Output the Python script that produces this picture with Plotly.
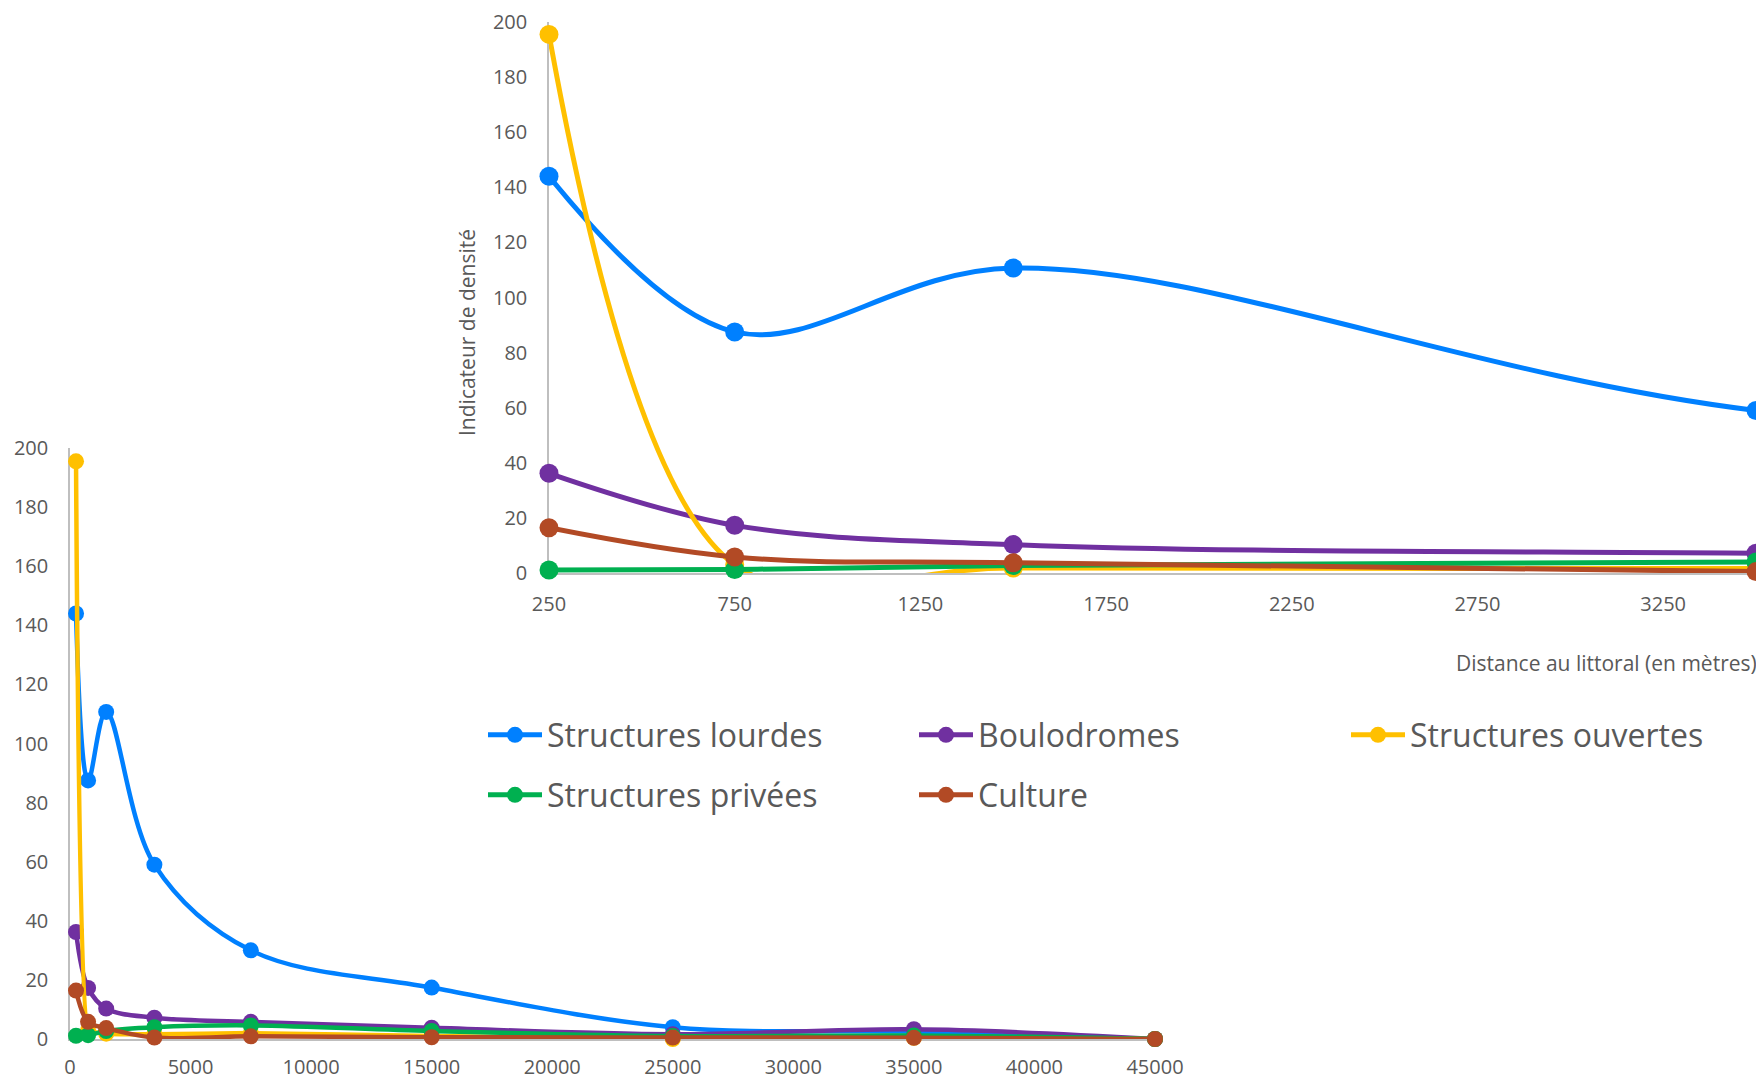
import plotly.graph_objects as go

# ---- data ----
distance = [250, 750, 1500, 3500, 7500, 15000, 25000, 35000, 45000]
series_names = ["Structures lourdes", "Boulodromes", "Structures ouvertes",
                "Structures privées", "Culture"]
structures_lourdes = [144, 87.5, 110.7, 59, 30, 17.4, 4, 2.5, 0]
boulodromes = [36.2, 17.3, 10.3, 7.2, 5.8, 3.8, 1.6, 3.3, 0]
structures_ouvertes = [195.5, 3, 1.8, 1.6, 2, 1, 0, 0.4, 0]
structures_privees = [1.1, 1.3, 2.7, 4, 4.6, 2.7, 1.0, 1.2, 0]
culture = [16.4, 5.8, 3.7, 0.5, 0.9, 0.6, 0.5, 0.4, 0]
values = [structures_lourdes, boulodromes, structures_ouvertes,
          structures_privees, culture]
colors = ["#0080FF", "#7030A0", "#FFC000", "#00B050", "#B24A25"]
main_smoothing = [1, 1, 0.3, 1, 1]

# page body has an 8px margin: figure is sized to fill the window from there
OFF = 8
W, H = 1764 - OFF, 1081 - OFF
FONT = "Open Sans, Noto Sans, sans-serif"
TXT = "#595959"
AX = "#BFBFBF"

def px(xv):
    return (xv - OFF) / W

def py(yv):
    return 1 - (yv - OFF) / H

fig = go.Figure()

# main (full range) chart
for name, v, c, sm in zip(series_names, values, colors, main_smoothing):
    fig.add_trace(go.Scatter(
        x=distance, y=v, name=name, mode="lines+markers",
        line=dict(color=c, width=4.5, shape="spline", smoothing=sm),
        marker=dict(color=c, size=16), cliponaxis=False,
        xaxis="x", yaxis="y", showlegend=False, hoverinfo="skip"))

# inset (zoomed) chart, each series with its own legend slot
legend_ids = ["legend", "legend2", "legend3", "legend4", "legend5"]
for name, v, c, lg in zip(series_names, values, colors, legend_ids):
    fig.add_trace(go.Scatter(
        x=distance, y=v, name=name, mode="lines+markers",
        line=dict(color=c, width=5, shape="spline", smoothing=1),
        marker=dict(color=c, size=19), cliponaxis=False,
        xaxis="x2", yaxis="y2", legend=lg, hoverinfo="skip"))

axis_common = dict(showgrid=False, zeroline=False, showline=True, linecolor=AX,
                   linewidth=1.5, ticks="", layer="below traces", automargin=False,
                   tickformat="d",
                   tickfont=dict(family=FONT, size=20, color=TXT))

# legend slots: (left x, centre y) in pixels
legend_pos = [(483, 735), (914, 735), (1346, 735), (483, 795), (914, 795)]
legends = {}
for lg, (lx, ly) in zip(legend_ids, legend_pos):
    legends[lg] = dict(orientation="h", x=px(lx), xanchor="left", y=py(ly),
                       yanchor="middle", bgcolor="rgba(0,0,0,0)", itemwidth=54,
                       font=dict(family=FONT, size=32, color=TXT), itemclick=False)

fig.update_layout(
    width=W, height=H, margin=dict(l=0, r=0, t=0, b=0, autoexpand=False),
    paper_bgcolor="white", plot_bgcolor="rgba(0,0,0,0)",
    font=dict(family=FONT, color=TXT),
    xaxis=dict(domain=[px(70), px(1155)], range=[0, 45000], tick0=0, dtick=5000,
               anchor="y", ticklabelstandoff=9, **axis_common),
    yaxis=dict(domain=[py(1039), py(448)], range=[0, 200], tick0=0, dtick=20,
               anchor="x", ticklabelstandoff=16, **axis_common),
    xaxis2=dict(domain=[px(549), px(1756)], range=[250, 3500], tick0=250, dtick=500,
                anchor="y2", ticklabelstandoff=12, **axis_common),
    yaxis2=dict(domain=[py(573), py(22)], range=[0, 200], tick0=0, dtick=20,
                anchor="x2", ticklabelstandoff=16, **axis_common),
    annotations=[
        dict(text="Indicateur de densité", x=px(467), y=py(333), xref="paper", yref="paper",
             textangle=-90, showarrow=False, xanchor="center", yanchor="middle",
             font=dict(family=FONT, size=21, color=TXT)),
        dict(text="Distance au littoral (en mètres)", x=px(1759), y=py(663),
             xref="paper", yref="paper", showarrow=False, xanchor="right", yanchor="middle",
             font=dict(family=FONT, size=21, color=TXT)),
    ],
    **legends,
)

fig.write_html("out.html")
